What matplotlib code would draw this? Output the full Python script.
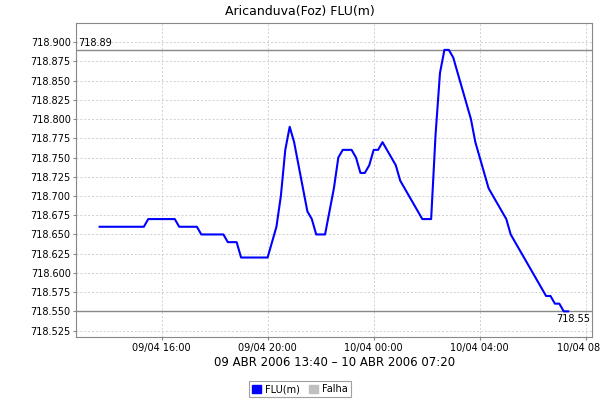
import matplotlib
matplotlib.use('Agg')
import matplotlib.pyplot as plt
import matplotlib.dates as mdates
from matplotlib.patches import Patch
import pandas as pd
from datetime import datetime

# Leituras a cada 10 minutos, 09/04/2006 13:40 ate 10/04/2006 07:20
inicio = '2006-04-09 13:40'
n_leituras = 107
nivel = [
    718.66, 718.66, 718.66, 718.66, 718.66, 718.66, 718.66, 718.66, 718.66, 718.66, 718.66,
    718.67, 718.67, 718.67, 718.67, 718.67, 718.67, 718.67,
    718.66, 718.66, 718.66, 718.66, 718.66,
    718.65, 718.65, 718.65, 718.65, 718.65, 718.65,
    718.64, 718.64, 718.64,
    718.62, 718.62, 718.62, 718.62, 718.62, 718.62, 718.62,
    718.64, 718.66, 718.70, 718.76, 718.79, 718.77, 718.74, 718.71, 718.68, 718.67,
    718.65, 718.65, 718.65, 718.68, 718.71, 718.75, 718.76, 718.76, 718.76, 718.75,
    718.73, 718.73, 718.74, 718.76, 718.76, 718.77, 718.76, 718.75, 718.74, 718.72,
    718.71, 718.70, 718.69, 718.68, 718.67, 718.67, 718.67,
    718.78, 718.86, 718.89, 718.89, 718.88, 718.86, 718.84, 718.82, 718.80, 718.77,
    718.75, 718.73, 718.71, 718.70, 718.69, 718.68, 718.67, 718.65, 718.64, 718.63,
    718.62, 718.61, 718.60, 718.59, 718.58, 718.57, 718.57, 718.56, 718.56, 718.55,
    718.55,
]
nivel_max = 718.89
nivel_min = 718.55
titulo = 'Aricanduva(Foz) FLU(m)'
rotulo_x = '09 ABR 2006 13:40 \u2013 10 ABR 2006 07:20'

horarios = pd.date_range(inicio, periods=n_leituras, freq='10min')

fig = plt.figure(figsize=(6, 4), dpi=100)
ax = fig.add_axes([0.127, 0.157, 0.859, 0.785])

# Grade tracejada
ax.grid(True, color='#d0d0d0', linestyle=(0, (2, 2)), linewidth=0.7)
ax.set_axisbelow(True)

# Linhas de maximo e minimo
ax.axhline(nivel_max, color='#888888', linewidth=1)
ax.axhline(nivel_min, color='#888888', linewidth=1)
ax.plot(horarios, nivel, color='#0000ff', linewidth=1.5)

ax.set_xlim(datetime(2006, 4, 9, 12, 47), datetime(2006, 4, 10, 8, 13))
ax.set_ylim(718.5164, 718.9247)
ax.text(0.003, nivel_max + 0.003, f'{nivel_max:.2f}', transform=ax.get_yaxis_transform(),
        fontsize=7, ha='left', va='bottom')
ax.text(0.997, nivel_min - 0.004, f'{nivel_min:.2f}', transform=ax.get_yaxis_transform(),
        fontsize=7, ha='right', va='top')

ax.set_yticks([718.525 + 0.025 * k for k in range(16)])
ax.yaxis.set_major_formatter(plt.FormatStrFormatter('%.3f'))
ax.xaxis.set_major_locator(mdates.HourLocator(byhour=[0, 4, 8, 12, 16, 20]))
ax.xaxis.set_major_formatter(mdates.DateFormatter('%d/%m %H:%M'))
ax.tick_params(labelsize=7, length=2, color='#888888', pad=2)

for s in ax.spines.values():
    s.set_color('#888888')

fig.text(0.5, 0.97, titulo, ha='center', va='center', fontsize=9)
fig.text(0.557, 0.093, rotulo_x, ha='center', va='center', fontsize=8.5)

handles = [Patch(facecolor='#0000ff', edgecolor='#0000ff', label='FLU(m)'),
           Patch(facecolor='#c0c0c0', edgecolor='#c0c0c0', label='Falha')]
leg = fig.legend(handles=handles, loc='center', bbox_to_anchor=(0.5, 0.027), ncol=2,
                 fontsize=7, frameon=True, fancybox=False, handlelength=0.9, handleheight=0.9,
                 handletextpad=0.4, columnspacing=1.0, borderpad=0.3, borderaxespad=0)
leg.get_frame().set_edgecolor('#888888')
leg.get_frame().set_linewidth(0.8)

fig.savefig('out.png', dpi=100)
